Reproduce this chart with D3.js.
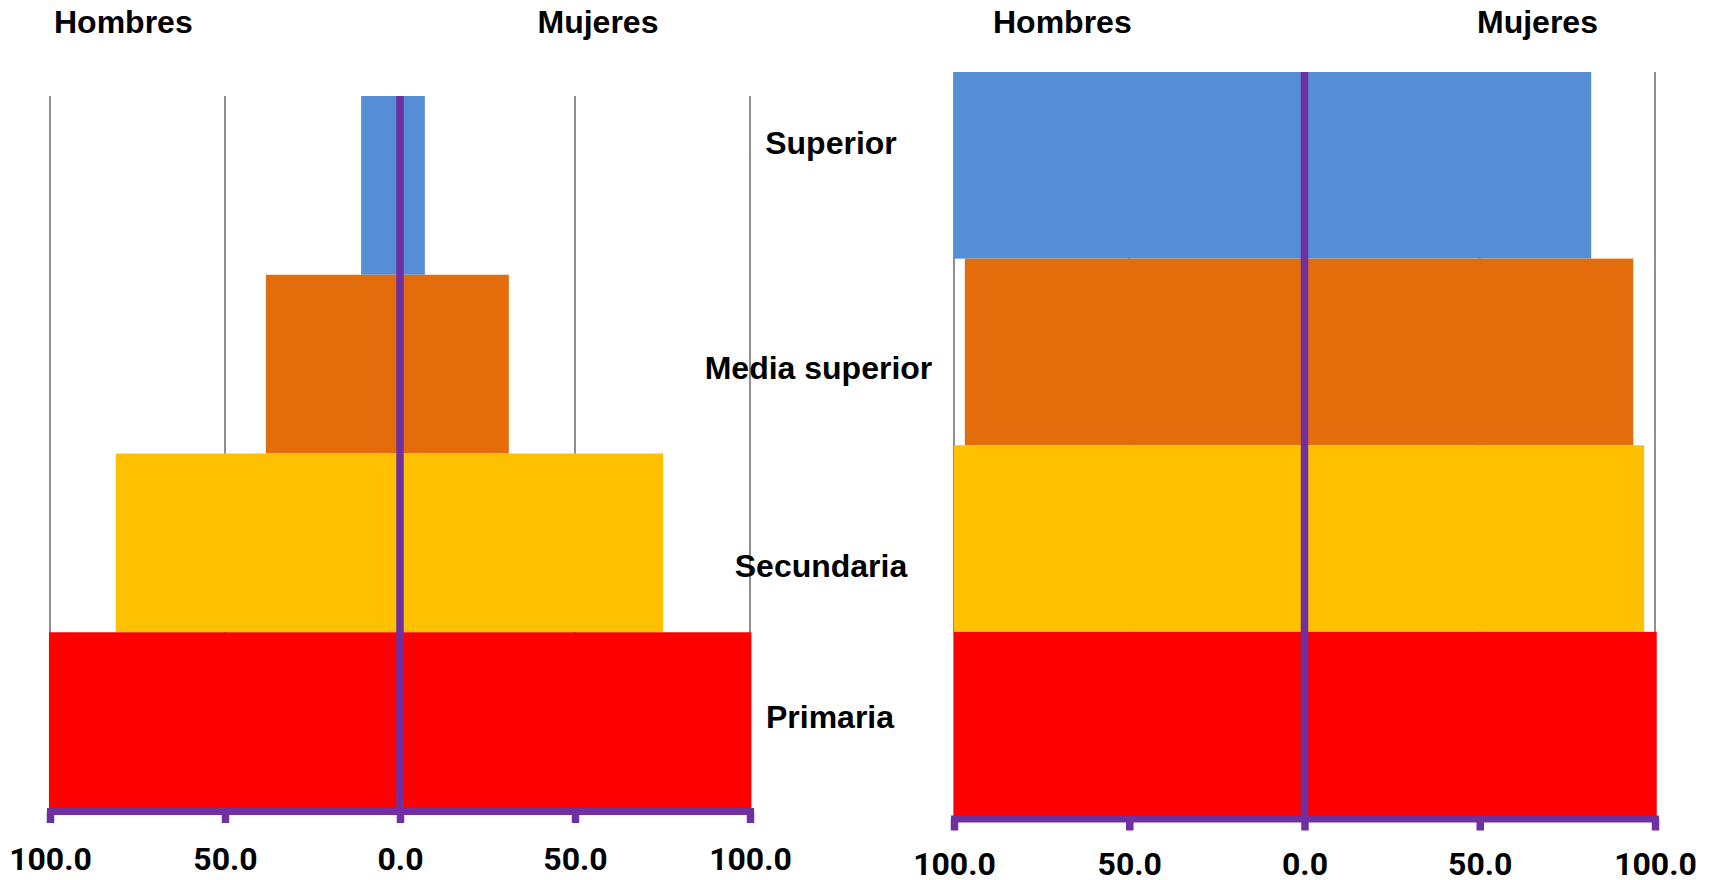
<!DOCTYPE html>
<html>
<head>
<meta charset="utf-8">
<script src="https://cdn.jsdelivr.net/npm/d3@7"></script>
<style>
  html, body { margin: 0; padding: 0; background: #ffffff; }
  svg { display: block; }
</style>
</head>
<body>
<svg id="chart" width="1713" height="880"></svg>
<script>
// ---- data ----
const categories = ["Superior", "Media superior", "Secundaria", "Primaria"];
const hombresLeft  = [11.1, 38.3, 81.2, 100.3];
const mujeresLeft  = [7.1, 31.1, 75.2, 100.4];
const hombresRight = [100, 96.9, 100, 100];
const mujeresRight = [81.8, 93.8, 96.9, 100.5];
const tickValues = [-100, -50, 0, 50, 100];
const sideLabels = ["Hombres", "Mujeres"];

// ---- styles / layout ----
const barColors = ["#558ED5", "#E46C0A", "#FFC000", "#FF0000"];
const purple = "#7030A0";
const gridColor = "#8f8f8f";
const labelFont = "'Liberation Sans', Arial, sans-serif";
const tickFont = "Roboto, 'Liberation Sans', sans-serif";

const svg = d3.select("#chart");

function drawChart(cfg) {
  const g = svg.append("g");
  const x = d3.scaleLinear().domain([-100, 100]).range(cfg.xRange);
  const y = d3.scaleBand().domain(categories).range(cfg.yRange).padding(0);
  const rows = categories.map((c, i) => ({ c, i, h: cfg.hombres[i], m: cfg.mujeres[i] }));

  // gridlines
  g.selectAll("line.grid")
    .data(tickValues.filter(v => v !== 0))
    .join("line")
    .attr("class", "grid")
    .attr("x1", d => x(d)).attr("x2", d => x(d))
    .attr("y1", cfg.yRange[0]).attr("y2", cfg.yRange[1])
    .attr("stroke", gridColor).attr("stroke-width", 2);

  // men bars (left)
  g.selectAll("rect.h")
    .data(rows).join("rect").attr("class", "h")
    .attr("x", d => x(-d.h))
    .attr("width", d => x(0) - x(-d.h))
    .attr("y", d => y(d.c))
    .attr("height", y.bandwidth())
    .attr("fill", d => barColors[d.i]);

  // women bars (right)
  g.selectAll("rect.m")
    .data(rows).join("rect").attr("class", "m")
    .attr("x", x(0))
    .attr("width", d => x(d.m) - x(0))
    .attr("y", d => y(d.c))
    .attr("height", y.bandwidth())
    .attr("fill", d => barColors[d.i]);

  // center vertical axis
  g.append("line")
    .attr("x1", x(0)).attr("x2", x(0))
    .attr("y1", cfg.yRange[0]).attr("y2", cfg.yRange[1])
    .attr("stroke", purple).attr("stroke-width", 7.5);

  // bottom axis
  const axis = d3.axisBottom(x)
    .tickValues(tickValues)
    .tickSizeInner(12)
    .tickSizeOuter(0)
    .tickFormat(d => d3.format(".1f")(Math.abs(d)));
  const ag = g.append("g")
    .attr("transform", `translate(0,${cfg.yRange[1]})`)
    .call(axis);
  ag.select(".domain")
    .attr("stroke", purple).attr("stroke-width", 7)
    .attr("stroke-linecap", "square");
  ag.selectAll(".tick line")
    .attr("stroke", purple).attr("stroke-width", 7.5);
  ag.selectAll(".tick text")
    .attr("y", cfg.tickTextOffset).attr("dy", 0)
    .attr("fill", "#000")
    .style("font-family", tickFont)
    .style("font-weight", "bold")
    .style("font-size", "32px");

  // side titles
  g.selectAll("text.side")
    .data(sideLabels).join("text").attr("class", "side")
    .attr("x", (d, i) => cfg.titleX[i])
    .attr("y", 32.5)
    .attr("fill", "#000")
    .style("font-family", labelFont)
    .style("font-weight", "bold")
    .style("font-size", "32px")
    .text(d => d);
}

drawChart({
  xRange: [50, 750], yRange: [96, 811],
  hombres: hombresLeft, mujeres: mujeresLeft,
  titleX: [54, 537.5], tickTextOffset: 59
});
drawChart({
  xRange: [954, 1655], yRange: [72, 818.5],
  hombres: hombresRight, mujeres: mujeresRight,
  titleX: [993, 1477], tickTextOffset: 56.5
});

// category labels between the charts
const catLabelX = [831, 818.5, 821, 830];
const catLabelY = [154, 379, 576.5, 728];
svg.selectAll("text.cat")
  .data(categories).join("text").attr("class", "cat")
  .attr("x", (d, i) => catLabelX[i])
  .attr("y", (d, i) => catLabelY[i])
  .attr("text-anchor", "middle")
  .attr("fill", "#000")
  .style("font-family", labelFont)
  .style("font-weight", "bold")
  .style("font-size", "32px")
  .text(d => d);
</script>
</body>
</html>
